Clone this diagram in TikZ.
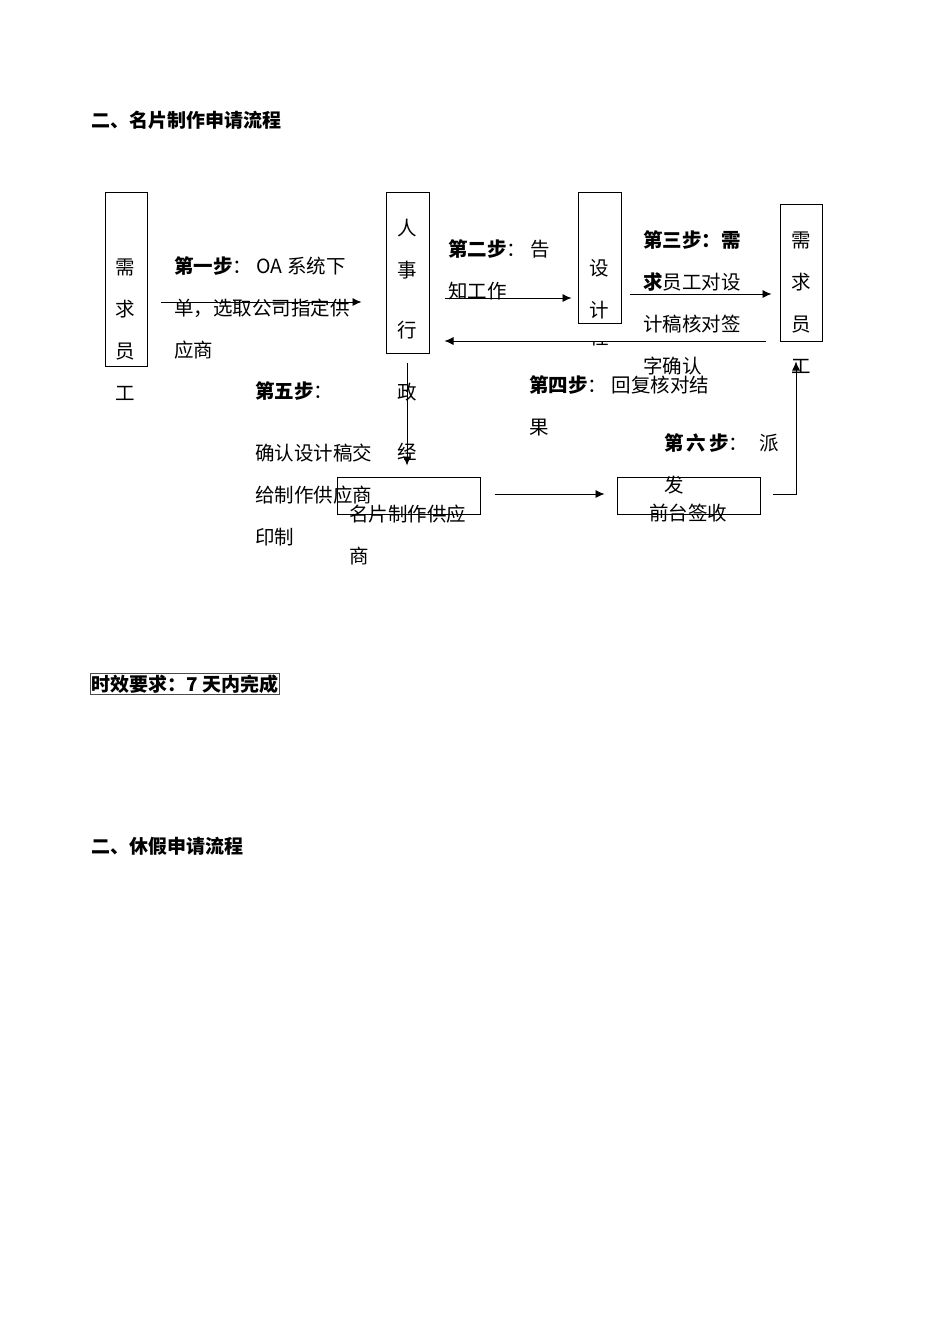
\documentclass[tikz,border=0pt]{standalone}
\usepackage{fontspec}
\newfontfamily\cjk{Noto Sans CJK SC}
\usetikzlibrary{arrows.meta}

\begin{document}
\begin{tikzpicture}[x=1pt,y=-1pt,
    every node/.style={font=\cjk\fontsize{19.5}{42}\selectfont, inner sep=0pt},
    flowbox/.style={draw, line width=1pt},
    steptext/.style={anchor=north west, align=left},
    column/.style={anchor=north, align=center},
    heading/.style={anchor=west, font=\cjk\bfseries\fontsize{19}{23}\selectfont},
    flow/.style={line width=0.8pt, -{Latex[length=9pt, width=8pt]}}]

           \useasboundingbox (0,0) rectangle (950,1344);

           \node [heading] (title1) at (91,120) {二、名片制作申请流程};

           \node [flowbox, minimum width=42pt, minimum height=174pt] (reqA) at (126,279) {};
           \node [flowbox, minimum width=43pt, minimum height=161pt] (hr) at (407.5,272.5) {};
           \node [flowbox, minimum width=43pt, minimum height=131pt] (design) at (599.5,257.5) {};
           \node [flowbox, minimum width=42pt, minimum height=137pt] (reqE) at (801,272.5) {};
           \node [flowbox, minimum width=143pt, minimum height=37pt] (vendor) at (408.5,495.5) {};
           \node [flowbox, minimum width=143pt, minimum height=37pt] (front) at (688.5,495.5) {};

           \node [column] (reqAtext) at (125,259) {需\\求\\员\\工};
           \node [column] (hrtext) at (407,219) {人\\事\\[18pt]行\\[20pt]政\\[18pt]经};
           \node [column] (designtext) at (599,259) {设\\计};
           \begin{scope}
             \clip (578,342) rectangle (621,348);
             \node (designcut) at (599,337) {程};
           \end{scope}
           \node [column] (reqEtext) at (801,232) {需\\求\\员\\工};
           \node [steptext] (vendortext) at (349,505) {名片制作供应\\商};
           \node (fronttext) at (688,513) {前台签收};

           \node [steptext] (step1) at (174,256) {\textbf{第一步}：\ OA 系统下\\单，选取公司指定供\\应商};
           \node [steptext] (step2) at (448,239) {\textbf{第二步}： 告\\知工作};
           \node [steptext] (step3) at (643,230) {\textbf{第三步：需}\\\textbf{求}员工对设\\计稿核对签\\字确认};
           \node [steptext] (step4) at (529,375) {\textbf{第四步}： 回复核对结\\果};
           \node [steptext] (step5) at (255,381) {\textbf{第五步}：\\[20pt]确认设计稿交\\给制作供应商\\印制};
           \node [steptext] (step6) at (664,433) {\textbf{第\hspace{3pt}六\hspace{3pt}步}：\hspace{11pt}派\\发};

           \draw [flow] ([xshift=13pt,yshift=-23pt]reqA.east) -- ([xshift=-24pt,yshift=-29.5pt]hr.west);
           \draw [flow] ([xshift=15pt,yshift=-25.5pt]hr.east) -- ([xshift=-6pt,yshift=-40.5pt]design.west);
           \draw [flow] ([xshift=8pt,yshift=-36.5pt]design.east) -- ([xshift=-8pt,yshift=-21.5pt]reqE.west);
           \draw [flow] ([xshift=-14pt,yshift=-68.5pt]reqE.west) -- ([xshift=15pt,yshift=-68.5pt]hr.east);
           \draw [flow] ([xshift=-0.5pt,yshift=-9pt]hr.south) -- ([xshift=-1.5pt,yshift=11pt]vendor.north);
           \draw [flow] ([xshift=14pt,yshift=1.5pt]vendor.east) -- ([xshift=-12pt,yshift=1.5pt]front.west);
           \draw [flow] ([xshift=12pt,yshift=1.5pt]front.east) -| ([xshift=-5pt,yshift=-20pt]reqE.south);

           \node [heading, draw=gray!60!black, line width=0.8pt, inner sep=1pt] (limit) at (90,684) {时效要求：7 天内完成};

           \node [heading] (title2) at (91,846) {二、休假申请流程};

\end{tikzpicture}
\end{document}
